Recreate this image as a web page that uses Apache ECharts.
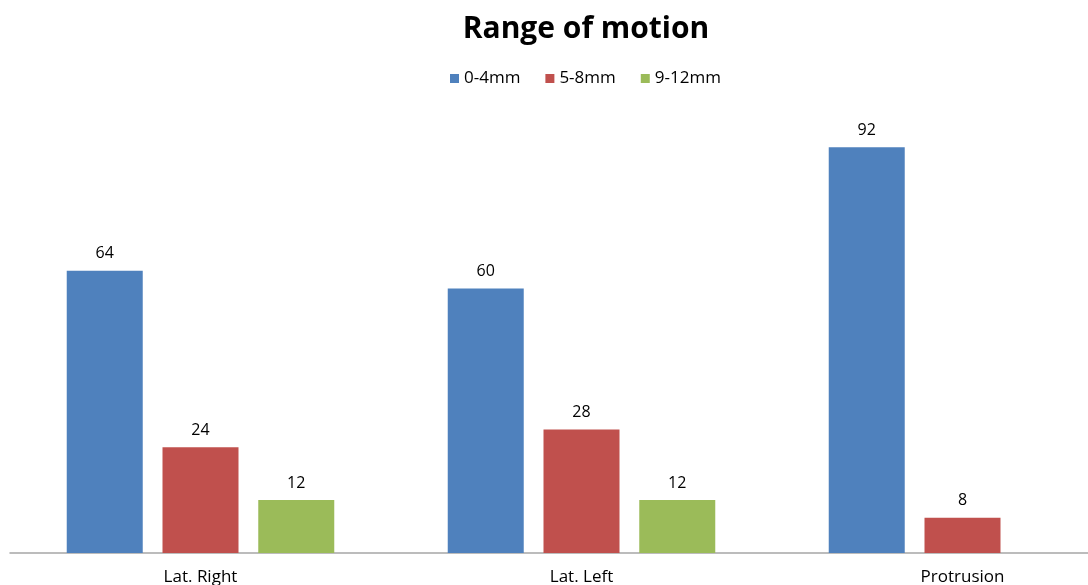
<!DOCTYPE html>
<html>
<head>
<meta charset="utf-8">
<script src="https://cdn.jsdelivr.net/npm/echarts@6/dist/echarts.min.js"></script>
<style>
  html, body { margin: 0; padding: 0; background: #fff; }
  #chart { width: 1088px; height: 585px; }
</style>
</head>
<body>
<div id="chart"></div>
<script>
// Range of motion by movement direction, grouped by displacement band
const categories = ['Lat. Right', 'Lat. Left', 'Protrusion'];
const seriesNames = ['0-4mm', '5-8mm', '9-12mm'];
const band0to4 = [64, 60, 92];
const band5to8 = [24, 28, 8];
const band9to12 = [12, 12, null];
const colors = ['#4F81BD', '#C0504D', '#9BBB59'];

const font = '"Open Sans", "Noto Sans", sans-serif';
const chart = echarts.init(document.getElementById('chart'), null, { renderer: 'canvas' });

const values = [band0to4, band5to8, band9to12];
const series = seriesNames.map((name, i) => ({
  name: name,
  type: 'bar',
  data: values[i],
  barWidth: 76,
  barGap: '26%',
  itemStyle: { color: colors[i] },
  label: {
    show: true,
    position: 'top',
    distance: 9,
    color: '#000',
    fontFamily: font,
    fontSize: 16
  }
}));

chart.setOption({
  animation: false,
  backgroundColor: '#fff',
  title: {
    text: 'Range of motion',
    left: 581,
    top: 9,
    textAlign: 'center',
    textStyle: { fontFamily: font, fontSize: 30, fontWeight: 'bold', color: '#000' }
  },
  legend: {
    data: seriesNames,
    left: 445,
    top: 65,
    icon: 'rect',
    itemWidth: 9,
    itemHeight: 9,
    itemGap: 25,
    textStyle: { fontFamily: font, fontSize: 17, color: '#000', padding: [0, 0, 0, 0] }
  },
  grid: { left: 10, top: 112, right: -65, height: 441, containLabel: false, outerBoundsMode: 'none' },
  xAxis: {
    type: 'category',
    data: categories,
    axisLine: { lineStyle: { color: '#a6a6a6', width: 1.5 } },
    axisTick: { show: false },
    axisLabel: { color: '#000', fontFamily: font, fontSize: 17, margin: 16 }
  },
  yAxis: {
    type: 'value',
    min: 0,
    max: 100,
    show: false,
    splitLine: { show: false }
  },
  series: series
});
</script>
</body>
</html>
